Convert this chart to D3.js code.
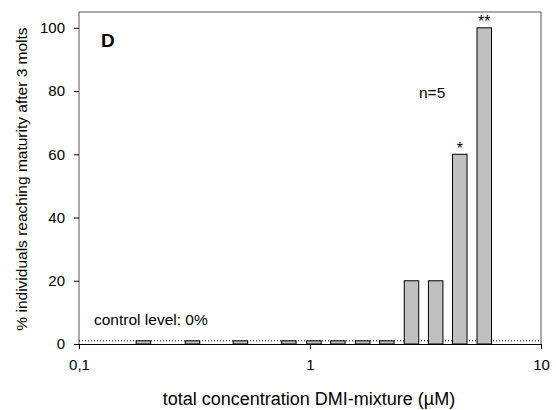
<!DOCTYPE html>
<html>
<head>
<meta charset="UTF-8">
<style>
  body { margin: 0; background: #fff; }
  svg text { font-family: "Liberation Sans", Arial, sans-serif; fill: #000; }
</style>
</head>
<body>
<svg width="556" height="410"></svg>
<script src="https://d3js.org/d3.v7.min.js"></script>
<script>
    // concentrations (µM) and % reaching maturity
    const concentrations = [0.19, 0.31, 0.5, 0.81, 1.04, 1.32, 1.69, 2.15, 2.75, 3.5, 4.45, 5.68];
    const maturity = [1, 1, 1, 1, 1, 1, 1, 1, 20, 20, 60, 100];
    const marks = ["", "", "", "", "", "", "", "", "", "", "*", "**"];
    const xTicks = [0.1, 1, 10];
    const xTickLabels = ["0,1", "1", "10"];
    const yTicks = [0, 20, 40, 60, 80, 100];
    const controlLevel = 1;

    const svg = d3.select("svg");
    const plot = {left: 79, right: 541, top: 12, bottom: 344};

    const x = d3.scaleLog().domain([0.1, 10]).range([plot.left, plot.right]);
    const y = d3.scaleLinear().domain([0, 105]).range([plot.bottom, plot.top]);
    const barW = 14.5;

    // frame
    svg.append("path")
        .attr("d", `M${plot.left},${plot.bottom}V${plot.top}H${plot.right}V${plot.bottom}`)
        .attr("fill", "none")
        .attr("stroke", "#555")
        .attr("stroke-width", 1);

    // control level dotted line
    svg.append("line")
        .attr("x1", plot.left).attr("x2", plot.right)
        .attr("y1", y(controlLevel)).attr("y2", y(controlLevel))
        .attr("stroke", "#000")
        .attr("stroke-dasharray", "1,2");

    svg.selectAll("rect.bar")
        .data(concentrations)
        .enter().append("rect")
        .attr("class", "bar")
        .attr("x", d => x(d) - barW / 2)
        .attr("y", (d, i) => y(maturity[i]))
        .attr("width", barW)
        .attr("height", (d, i) => y(0) - y(maturity[i]))
        .attr("fill", "#c0c0c0")
        .attr("stroke", "#000")
        .attr("stroke-width", 1);

    svg.selectAll("text.mark")
        .data(concentrations)
        .enter().append("text")
        .attr("class", "mark")
        .attr("x", d => x(d))
        .attr("y", (d, i) => y(maturity[i]) - 0.5)
        .attr("text-anchor", "middle")
        .attr("font-size", 16)
        .text((d, i) => marks[i]);

    // axes
    const xAxis = svg.append("g")
        .attr("transform", `translate(0,${plot.bottom})`)
        .call(d3.axisBottom(x).tickValues(xTicks).tickFormat((d, i) => xTickLabels[i]).tickSize(5).tickPadding(10));
    xAxis.select(".domain").attr("stroke", "#000");
    xAxis.selectAll("text").attr("font-size", 15);

    const yAxis = svg.append("g")
        .attr("transform", `translate(${plot.left},0)`)
        .call(d3.axisLeft(y).tickValues(yTicks).tickSize(5).tickPadding(9));
    yAxis.select(".domain").remove();
    yAxis.selectAll("text").attr("font-size", 15);

    // labels
    svg.append("text")
        .attr("x", (plot.left + plot.right) / 2 - 1)
        .attr("y", 405)
        .attr("text-anchor", "middle")
        .attr("font-size", 18)
        .text("total concentration DMI-mixture (µM)");

    svg.append("text")
        .attr("transform", "translate(27,179) rotate(-90)")
        .attr("text-anchor", "middle")
        .attr("font-size", 15.5)
        .text("% individuals reaching maturity after 3 molts");

    svg.append("text")
        .attr("x", 101).attr("y", 46.5)
        .attr("font-size", 19)
        .attr("font-weight", "bold")
        .text("D");

    svg.append("text")
        .attr("x", 419).attr("y", 97.5)
        .attr("font-size", 15.5)
        .text("n=5");

    svg.append("text")
        .attr("x", 94).attr("y", 325)
        .attr("font-size", 15.5)
        .text("control level: 0%");
</script>
</body>
</html>
